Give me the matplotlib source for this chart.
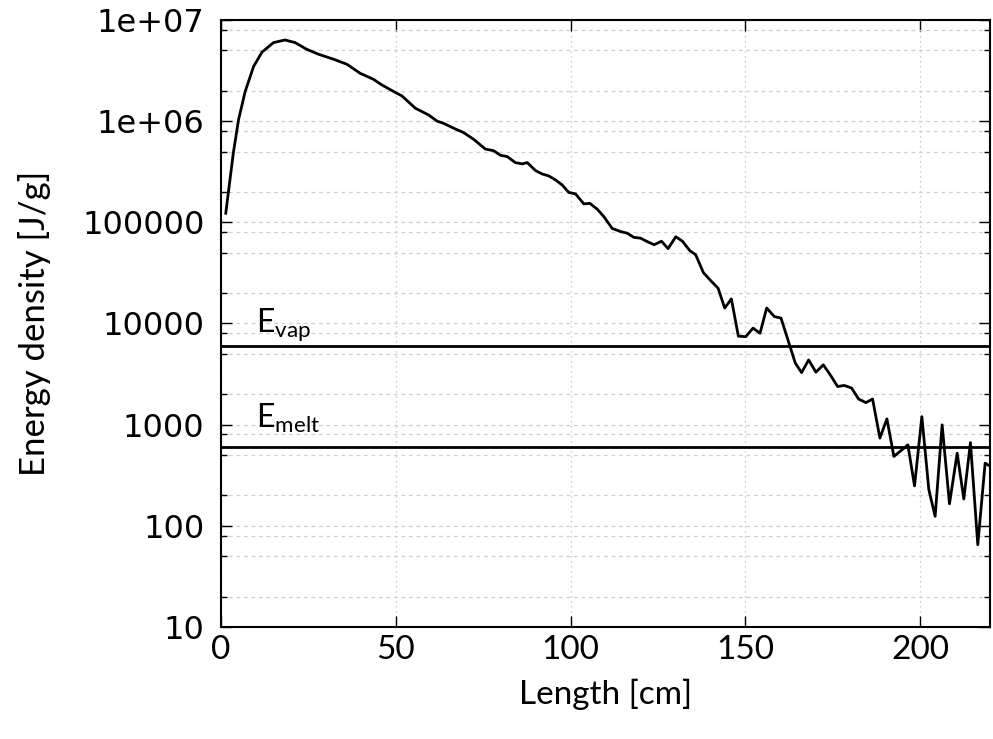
import matplotlib
matplotlib.use("Agg")
import matplotlib.pyplot as plt
from matplotlib.ticker import LogLocator, FixedLocator, NullFormatter

# --- datos ---
length_cm = [1.35, 3.5, 5.0, 6.9, 9.3, 11.7, 15, 18.3, 21.2, 24.5, 27.9, 32.2, 36, 39.8,
             43.6, 46, 49.4, 51.8, 55.6, 59.4, 61.8, 63.7, 66.6, 69.4, 72.3, 75.6, 78, 79.9,
             81.9, 84.2, 86.2, 87.6, 90, 91.9, 93.8, 95.7, 97.6, 99.5, 101.4, 103.8, 105.5,
             107.6, 109.5, 111.9, 114.3, 116.2, 118.1, 120, 121.9, 123.9, 126, 127.9, 130.1,
             132, 134.1, 135.8, 138, 140.1, 142.2, 144.1, 146, 148, 150.1, 152.2, 154.2,
             156.1, 158.3, 160.2, 164.3, 166.1, 168.1, 170.2, 172.3, 174.3, 176.4, 178.3,
             180.4, 182.4, 184.5, 186.4, 188.5, 190.5, 192.5, 194.6, 196.5, 198.4, 200.5,
             202.5, 204.3, 206.3, 208.4, 210.6, 212.5, 214.4, 216.5, 218.6, 220.5]
energy = [1.23e5, 4.8e5, 1.03e6, 1.96e6, 3.46e6, 4.8e6, 5.97e6, 6.34e6, 5.97e6, 5.13e6,
          4.58e6, 4.09e6, 3.65e6, 2.97e6, 2.59e6, 2.28e6, 1.96e6, 1.77e6, 1.34e6, 1.15e6,
          1.0e6, 9.5e5, 8.5e5, 7.7e5, 6.6e5, 5.3e5, 5.1e5, 4.6e5, 4.46e5, 3.89e5, 3.78e5,
          3.89e5, 3.24e5, 3.0e5, 2.87e5, 2.62e5, 2.34e5, 1.97e5, 1.91e5, 1.52e5, 1.54e5,
          1.35e5, 1.14e5, 8.7e4, 8.1e4, 7.8e4, 7.1e4, 6.97e4, 6.45e4, 6.0e4, 6.5e4, 5.5e4,
          7.2e4, 6.5e4, 5.25e4, 4.77e4, 3.18e4, 2.65e4, 2.23e4, 1.42e4, 1.75e4, 7.5e3,
          7.4e3, 9.0e3, 8.0e3, 1.42e4, 1.17e4, 1.13e4, 4.05e3, 3.27e3, 4.36e3, 3.3e3,
          3.9e3, 3.1e3, 2.38e3, 2.44e3, 2.3e3, 1.79e3, 1.65e3, 1.79e3, 736, 1140, 485,
          556, 631, 248, 1200, 227, 124, 995, 165, 522, 184, 665, 65, 416, 380]

e_vap = 6000
e_melt = 600

x_ticks = [0, 50, 100, 150, 200]
y_ticks = [10, 100, 1000, 10000, 100000, 1e6, 1e7]
y_labels = ["10", "100", "1000", "10000", "100000", "1e+06", "1e+07"]

narrow = ["Lato", "DejaVu Sans"]

fig = plt.figure(figsize=(9.93, 7.39), dpi=100)
ax = fig.add_axes([0.2226, 0.1516, 0.7744, 0.8214])

ax.plot(length_cm, energy, color="black", lw=2.0, zorder=3)
ax.axhline(e_vap, color="black", lw=2.0, zorder=3)
ax.axhline(e_melt, color="black", lw=2.0, zorder=3)

ax.text(10, 8100, r"E$_{\mathregular{vap}}$", fontsize=23, family=narrow, va="baseline")
ax.text(10, 930, r"E$_{\mathregular{melt}}$", fontsize=23, family=narrow, va="baseline")

ax.set_yscale("log")
ax.set_xlim(0, 220)
ax.set_ylim(10, 1e7)

ax.xaxis.set_major_locator(FixedLocator(x_ticks))
ax.set_yticks(y_ticks)
ax.set_yticklabels(y_labels)
ax.yaxis.set_minor_locator(LogLocator(base=10, subs=[2, 5, 8]))
ax.yaxis.set_minor_formatter(NullFormatter())

ax.grid(True, axis="x", which="major", color="#bdbdbd", ls=(0, (1, 3)), lw=0.9)
ax.grid(True, axis="y", which="both", color="#cfcfcf", ls=(0, (3, 3)), lw=0.9)
ax.set_axisbelow(True)

ax.tick_params(which="both", direction="in", top=True, right=True, width=1.0)
ax.tick_params(which="major", length=8)
ax.tick_params(which="minor", length=4)
ax.tick_params(axis="y", labelsize=23, pad=12)
ax.tick_params(axis="x", labelsize=24, pad=6)
for lab in ax.get_xticklabels():
    lab.set_family(narrow)

for s in ax.spines.values():
    s.set_linewidth(1.5)

ax.set_xlabel("Length [cm]", fontsize=24, family=narrow, labelpad=10)
ax.set_ylabel("Energy density [J/g]", fontsize=25, family=narrow, labelpad=22)

fig.savefig("out.png", dpi=100)
